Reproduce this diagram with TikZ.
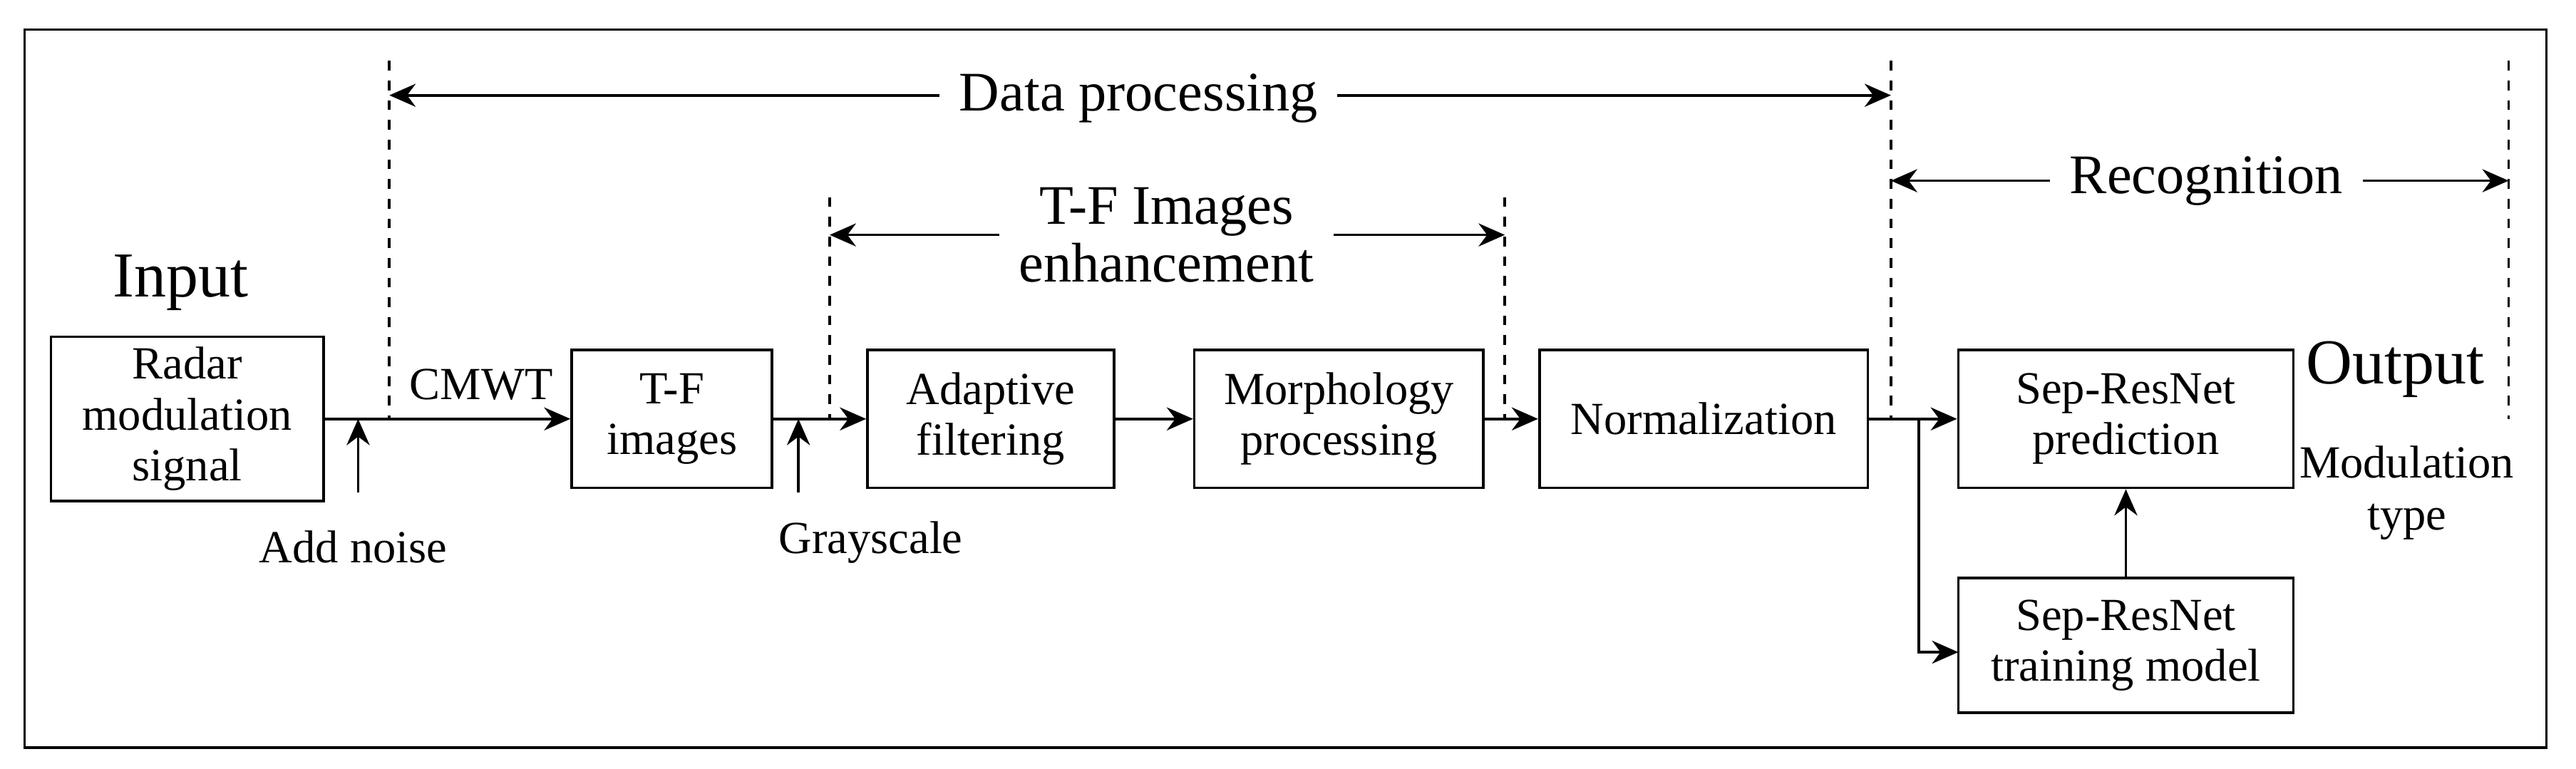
\documentclass[tikz,border=0pt]{standalone}
\usepackage{fontspec}
\setmainfont{Liberation Serif}
\usetikzlibrary{arrows.meta, positioning}

\begin{document}
\begin{tikzpicture}[
    x=0.5pt, y=-0.5pt,
    >={Stealth[length=8pt, width=7pt]},
    block/.style={rectangle, draw, thick, align=center, inner sep=1pt, font=\fontsize{14}{15.5}\selectfont},
    lbl/.style={align=center, font=\fontsize{14}{16}\selectfont},
    head/.style={align=center, font=\fontsize{17}{17.5}\selectfont, fill=white, inner xsep=6pt},
    bound/.style={thick, dashed}
]

    % Frame ------------------------------------------------------

    \useasboundingbox (0,0) rectangle (1568,468);
    \draw[thick] (15,18) rectangle (1550,455);

    % Nodes ------------------------------------------------------

    \node[block, minimum width=83pt, minimum height=50pt] (radar) at (114,255) {Radar\\modulation\\signal};
    \node[block, minimum width=61pt, minimum height=42pt] (tf) at (409,255) {T-F\\images};
    \node[block, minimum width=75pt, minimum height=42pt] (adapt) at (603,255) {Adaptive\\filtering};
    \node[block, minimum width=88pt, minimum height=42pt] (morph) at (815,255) {Morphology\\processing};
    \node[block, minimum width=100pt, minimum height=42pt] (norm) at (1037,255) {Normalization};
    \node[block, minimum width=102pt, minimum height=42pt] (pred) at (1294,255) {Sep-ResNet\\prediction};
    \node[block, minimum width=102pt, minimum height=41pt] (train) at (1294,393) {Sep-ResNet\\training model};

    % labels
    \node[font=\fontsize{19.5}{22}\selectfont] (input) at (110,172) {Input};
    \node[font=\fontsize{19.5}{22}\selectfont] (output) at (1458,225) {Output};
    \node[lbl] (modtype) at (1465,300) {Modulation\\type};
    \node[lbl] (cmwt) at (293,234) {CMWT};
    \node[lbl] (noise) at (215,333) {Add noise};
    \node[lbl] (gray) at (530,330) {Grayscale};

    % Stage bounds ---------------------------------------------

    \coordinate (d1) at (237,37);   \coordinate (d1b) at (237,255);
    \coordinate (d2) at (505,120);  \coordinate (d2b) at (505,255);
    \coordinate (d3) at (916,120);  \coordinate (d3b) at (916,255);
    \coordinate (d4) at (1151,37);  \coordinate (d4b) at (1151,255);
    \coordinate (d5) at (1527,37);  \coordinate (d5b) at (1527,255);
    \foreach \a/\b in {d1/d1b, d2/d2b, d3/d3b, d4/d4b, d5/d5b}
        \draw[bound] (\a) -- (\b);

    \draw[thick, <->] (237,58) -- (1151,58);
    \node[head] (dp) at (693,60) {Data processing};
    \draw[thick, <->] (505,143) -- (916,143);
    \node[head, fill=white] (tfe) at (710,143) {T-F Images\\enhancement};
    \draw[thick, <->] (1151,110) -- (1527,110);
    \node[head] (rec) at (1343,110) {Recognition};

    % Arrows ---------------------------------------------------

    \draw[thick, ->] (radar) -- (tf);
    \draw[thick, ->] (tf) -- (adapt);
    \draw[thick, ->] (adapt) -- (morph);
    \draw[thick, ->] (morph) -- (norm);
    \draw[thick, ->] (norm) -- (pred);
    \draw[thick, ->] (norm.east) -| (1168,397) -- (1192,397);
    \draw[thick, ->] (train) -- (pred);

    \coordinate (noisein) at (218,300);
    \coordinate (grayin) at (486,300);
    \draw[thick, ->] (noisein) -- (218,255);
    \draw[thick, ->] (grayin) -- (486,255);

\end{tikzpicture}
\end{document}
